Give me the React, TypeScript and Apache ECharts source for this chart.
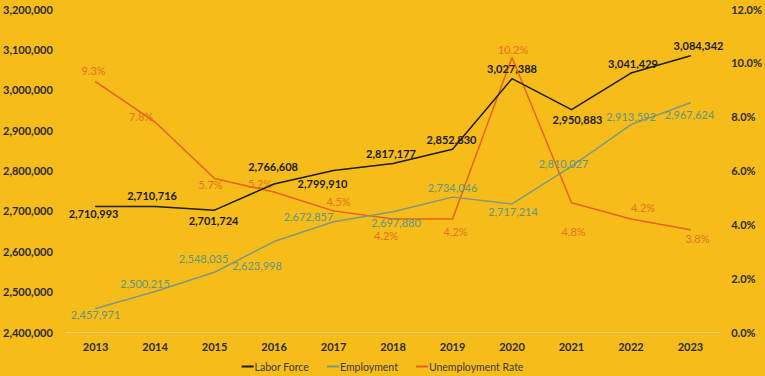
import React, { useEffect, useRef } from "react";
import * as echarts from "echarts";

const years = ["2013", "2014", "2015", "2016", "2017", "2018", "2019", "2020", "2021", "2022", "2023"];
const laborForce = [2710993, 2710716, 2701724, 2766608, 2799910, 2817177, 2852830, 3027388, 2950883, 3041429, 3084342];
const employment = [2457971, 2500215, 2548035, 2623998, 2672857, 2697880, 2734046, 2717214, 2810027, 2913592, 2967624];
const unemploymentRate = [9.3, 7.8, 5.7, 5.2, 4.5, 4.2, 4.2, 10.2, 4.8, 4.2, 3.8];

// label placement (style only)
const lfOffsets = [[-2, 7], [-3, -11], [-1, 10], [-1, -17], [-11, 13], [-2, -10], [-1, -10], [0, -10], [6, 10], [2, -10], [8, -10]];
const empOffsets = [[0, 6], [-10, -8], [-11, -14], [-17, 24], [-25, -5], [3, 11], [0, -10], [1, 8], [-8, -3], [0, -8], [-1, 12]];
const urOffsets = [[-2, -11], [-14, -6], [-4, 6], [-14, -9], [5, -9], [-7, 17], [3, 13], [1, -8], [2, 29], [12, -11], [7, 9]];

const FONT = "Lato";
const BG = "#F6BC1A";
const LF_COLOR = "#1c1c1c";
const EMP_COLOR = "#7c9a80";
const UR_COLOR = "#E8601C";

const fmt = (v: number) => v.toLocaleString("en-US");

function mkData(vals: number[], offs: number[][], formatter: (v: number) => string, color: string, bold: boolean) {
  return vals.map((v, i) => ({
    value: v,
    label: {
      show: true,
      position: "inside",
      offset: offs[i],
      formatter: () => formatter(v),
      color,
      fontFamily: FONT,
      fontSize: 11,
      fontWeight: bold ? "bold" : "normal",
    },
  }));
}

export default function App() {
  const ref = useRef<HTMLDivElement>(null);
  useEffect(() => {
    if (!ref.current) return;
    const chart = echarts.init(ref.current, null, { renderer: "svg" });
    const axisLabelBase = {
      fontFamily: FONT,
      fontSize: 11,
      fontWeight: "bold",
      color: "#2a2a2a",
    };
    chart.setOption({
      animation: false,
      backgroundColor: BG,
      grid: { left: 62, right: 43, top: 9, bottom: 44, containLabel: false },
      legend: {
        bottom: -1,
        left: "center",
        icon: "rect",
        itemWidth: 12,
        itemHeight: 2,
        itemGap: 18,
        textStyle: { fontFamily: FONT, fontSize: 10.5, color: "#3a3a3a", padding: [0, 0, 0, -4] },
        data: ["Labor Force", "Employment", "Unemployment Rate"],
      },
      xAxis: {
        type: "category",
        data: years,
        boundaryGap: true,
        axisLine: { lineStyle: { color: "#F3D27C", width: 1 } },
        axisTick: { show: false },
        axisLabel: { fontFamily: FONT, fontSize: 11, fontWeight: "bold", color: "#2a2a2a", margin: 9 },
      },
      yAxis: [
        {
          type: "value",
          min: 2400000,
          max: 3200000,
          interval: 100000,
          splitLine: { show: false },
          axisLine: { show: false },
          axisTick: { show: false },
          axisLabel: { ...axisLabelBase, margin: 13, formatter: (v: number) => fmt(v) },
        },
        {
          type: "value",
          min: 0,
          max: 12,
          interval: 2,
          splitLine: { show: false },
          axisLine: { show: false },
          axisTick: { show: false },
          axisLabel: { ...axisLabelBase, margin: 11, formatter: (v: number) => v.toFixed(1) + "%" },
        },
      ],
      series: [
        {
          name: "Labor Force",
          type: "line",
          yAxisIndex: 0,
          symbol: "circle",
          symbolSize: 1,
          lineStyle: { color: LF_COLOR, width: 1.5 },
          itemStyle: { color: LF_COLOR },
          data: mkData(laborForce, lfOffsets, fmt, "#1a1a1a", true),
          z: 3,
        },
        {
          name: "Employment",
          type: "line",
          yAxisIndex: 0,
          symbol: "circle",
          symbolSize: 1,
          lineStyle: { color: EMP_COLOR, width: 1.5 },
          itemStyle: { color: EMP_COLOR },
          data: mkData(employment, empOffsets, fmt, "#63957f", false),
          z: 2,
        },
        {
          name: "Unemployment Rate",
          type: "line",
          yAxisIndex: 1,
          symbol: "circle",
          symbolSize: 1,
          lineStyle: { color: UR_COLOR, width: 1.5 },
          itemStyle: { color: UR_COLOR },
          data: mkData(unemploymentRate, urOffsets, (v) => v.toFixed(1) + "%", "#E8701E", false),
          z: 1,
        },
      ],
    });
    return () => chart.dispose();
  }, []);
  return <div ref={ref} style={{ width: 765, height: 376, position: "absolute", left: 0, top: 0 }} />;
}
